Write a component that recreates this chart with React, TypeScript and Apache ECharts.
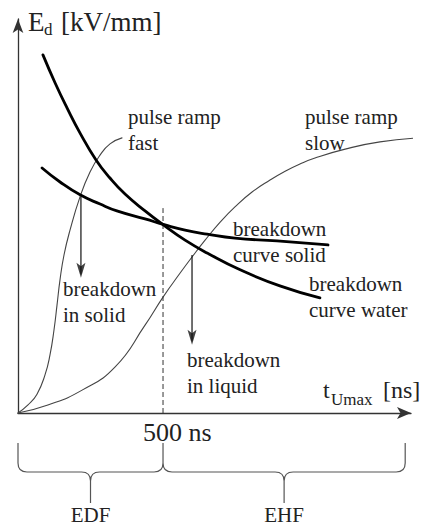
import React, { useEffect, useRef } from "react";
import * as echarts from "echarts";

// Breakdown curve water (thick)
const waterX = [86, 128, 169, 214, 269, 317, 369, 438, 507, 576, 652, 766, 903, 1041];
const waterY = [89.3, 82.3, 76.1, 69.8, 63.1, 58.6, 54.6, 50.4, 46.6, 43.1, 39.9, 35.7, 31.7, 28.7];
// Breakdown curve solid (thick)
const solidX = [83, 145, 214, 283, 341, 438, 507, 576, 652, 748, 893, 1069];
const solidY = [61.1, 57.6, 54.4, 52.1, 50.4, 48.4, 46.9, 45.6, 44.6, 43.6, 42.9, 41.9];
// Pulse ramp fast (thin)
const fastX = [0, 34.5, 65.5, 93.1, 110.3, 124.1, 134.5, 144.8, 158.6, 179.3, 213.8, 248.3, 282.8, 317.2, 358.6];
const fastY = [0, 2.0, 4.7, 9.5, 14.5, 20.7, 26.9, 33.2, 39.4, 45.6, 53.9, 60.1, 64.3, 67.1, 68.6];
// Pulse ramp slow (thin)
const slowX = [0, 103, 221, 335, 438, 500, 559, 600, 645, 697, 748, 807, 869, 921, 972, 1024, 1128, 1248, 1386];
const slowY = [0, 2.0, 5.7, 11.5, 21.9, 28.9, 34.9, 38.9, 43.1, 47.6, 51.4, 55.1, 58.1, 60.3, 62.1, 63.6, 65.8, 67.6, 68.6];
// Breakdown arrows: [x, yStart, yEnd]
const arrowSolid = [217, 53.9, 33.7];
const arrowLiquid = [600, 39.4, 17.0];
// Dashed marker at 500 ns
const markX = 500;
const markTop = 51.1;
// Brace spans (ns)
const braceEDF = [0, 500];
const braceEHF = [500, 1335];

const FONT = "'Liberation Serif', 'Times New Roman', serif";
const TXT = "#222";

const zip = (xs: number[], ys: number[]) => xs.map((x, i) => [x, ys[i]]);

export default function App() {
  const ref = useRef<HTMLDivElement>(null);
  useEffect(() => {
    const chart = echarts.init(ref.current!, null, { renderer: "svg" });
    const arrowHead = "path://M0,0 L5,3.5 L10,0 L5,15 Z";
    const arrowSeries = (a: number[]) => [
      {
        type: "line",
        data: [[a[0], a[1]], [a[0], a[2] + 1]],
        symbol: "none",
        lineStyle: { color: "#111", width: 1.2 },
        silent: true,
        z: 4,
      },
      {
        type: "scatter",
        data: [[a[0], a[2]]],
        symbol: arrowHead,
        symbolSize: [9, 15],
        symbolOffset: [0, -7.5],
        itemStyle: { color: "#111" },
        silent: true,
        z: 5,
      },
    ];
    const curve = (xs: number[], ys: number[], color: string, width: number, z: number) => ({
      type: "line",
      data: zip(xs, ys),
      smooth: 0.5,
      symbol: "none",
      clip: false,
      lineStyle: { color, width, cap: "round", join: "round" },
      silent: true,
      z,
    });
    const option: any = {
      animation: false,
      backgroundColor: "#fff",
      grid: { left: 18, right: 11, top: 19, bottom: 113 },
      xAxis: {
        type: "value",
        min: 0,
        max: 1355,
        axisLine: {
          show: true,
          symbol: ["none", "arrow"],
          symbolSize: [9, 14],
          lineStyle: { color: "#333", width: 1.3 },
        },
        axisTick: { show: false },
        axisLabel: { show: false },
        splitLine: { show: false },
      },
      yAxis: {
        type: "value",
        min: 0,
        max: 98.25,
        axisLine: {
          show: true,
          symbol: ["none", "arrow"],
          symbolSize: [8, 14],
          lineStyle: { color: "#333", width: 1.3 },
        },
        axisTick: { show: false },
        axisLabel: { show: false },
        splitLine: { show: false },
      },
      series: [
        {
          type: "line",
          data: [[markX, 0], [markX, markTop]],
          symbol: "none",
          lineStyle: { color: "#333", width: 1, type: [5, 3] },
          silent: true,
        },
        curve(fastX, fastY, "#444", 1.1, 2),
        curve(slowX, slowY, "#444", 1.1, 2),
        curve(waterX, waterY, "#000", 2.8, 3),
        curve(solidX, solidY, "#000", 2.8, 3),
        ...arrowSeries(arrowSolid),
        ...arrowSeries(arrowLiquid),
      ],
    };
    chart.setOption(option);

    const px = (x: number) => (chart.convertToPixel({ gridIndex: 0 }, [x, 0]) as number[])[0];
    const axisY = (chart.convertToPixel({ gridIndex: 0 }, [0, 0]) as number[])[1];
    const y0 = axisY + 30;
    const y1 = axisY + 59;
    const y2 = axisY + 90;
    const r = 9;
    const brace = (xa: number, xb: number) => {
      const xc = (xa + xb) / 2;
      return (
        `M${xa},${y0} L${xa},${y1 - r} Q${xa},${y1} ${xa + r},${y1} L${xc - r},${y1} ` +
        `Q${xc},${y1} ${xc},${y1 + r} L${xc},${y2} ` +
        `M${xc},${y1 + r} Q${xc},${y1} ${xc + r},${y1} L${xb - r},${y1} Q${xb},${y1} ${xb},${y1 - r} L${xb},${y0}`
      );
    };
    const eL = [px(braceEDF[0]), px(braceEDF[1])];
    const eR = [px(braceEHF[0]), px(braceEHF[1])];
    const d = brace(eL[0], eL[1]) + " " + brace(eR[0], eR[1]);
    echarts.graphic.registerShape("braces", echarts.graphic.extendPath(d, {}) as any);

    const label = (text: string, x: number, yFirstCenter: number, size = 21, lh = 25.5) => ({
      type: "text",
      x,
      y: yFirstCenter - lh / 2,
      silent: true,
      style: {
        text,
        fontFamily: FONT,
        fontSize: size,
        lineHeight: lh,
        fill: TXT,
        textAlign: "left",
        textVerticalAlign: "top",
      },
    });
    const single = (text: string, x: number, yc: number, size: number, align = "left") => ({
      type: "text",
      x,
      y: yc,
      silent: true,
      style: {
        text,
        fontFamily: FONT,
        fontSize: size,
        fill: TXT,
        textAlign: align,
        textVerticalAlign: "middle",
      },
    });

    chart.setOption({
      graphic: [
        {
          type: "braces",
          x: 0,
          y: 0,
          silent: true,
          style: { fill: "none", stroke: "#555", lineWidth: 1.2 },
        },
        single("E", 28, 22, 27),
        single("d", 44, 29, 17),
        single("[kV/mm]", 61, 22, 27),
        single("t", 323, 390, 24),
        single("Umax", 331, 399, 17),
        single("[ns]", 383, 390, 24),
        single("500 ns", 143, 432, 26),
        single("EDF", (eL[0] + eL[1]) / 2, 515, 21, "center"),
        single("EHF", (eR[0] + eR[1]) / 2, 515, 21, "center"),
        label("pulse ramp\nfast", 128, 117),
        label("pulse ramp\nslow", 305, 117),
        label("breakdown\ncurve solid", 233, 229),
        label("breakdown\ncurve water", 309, 284),
        label("breakdown\nin solid", 63, 289),
        label("breakdown\nin liquid", 187, 360),
      ],
    });
    return () => chart.dispose();
  }, []);
  return (
    <div
      ref={ref}
      style={{ position: "absolute", left: 0, top: 0, width: 422, height: 526, background: "#fff" }}
    />
  );
}
